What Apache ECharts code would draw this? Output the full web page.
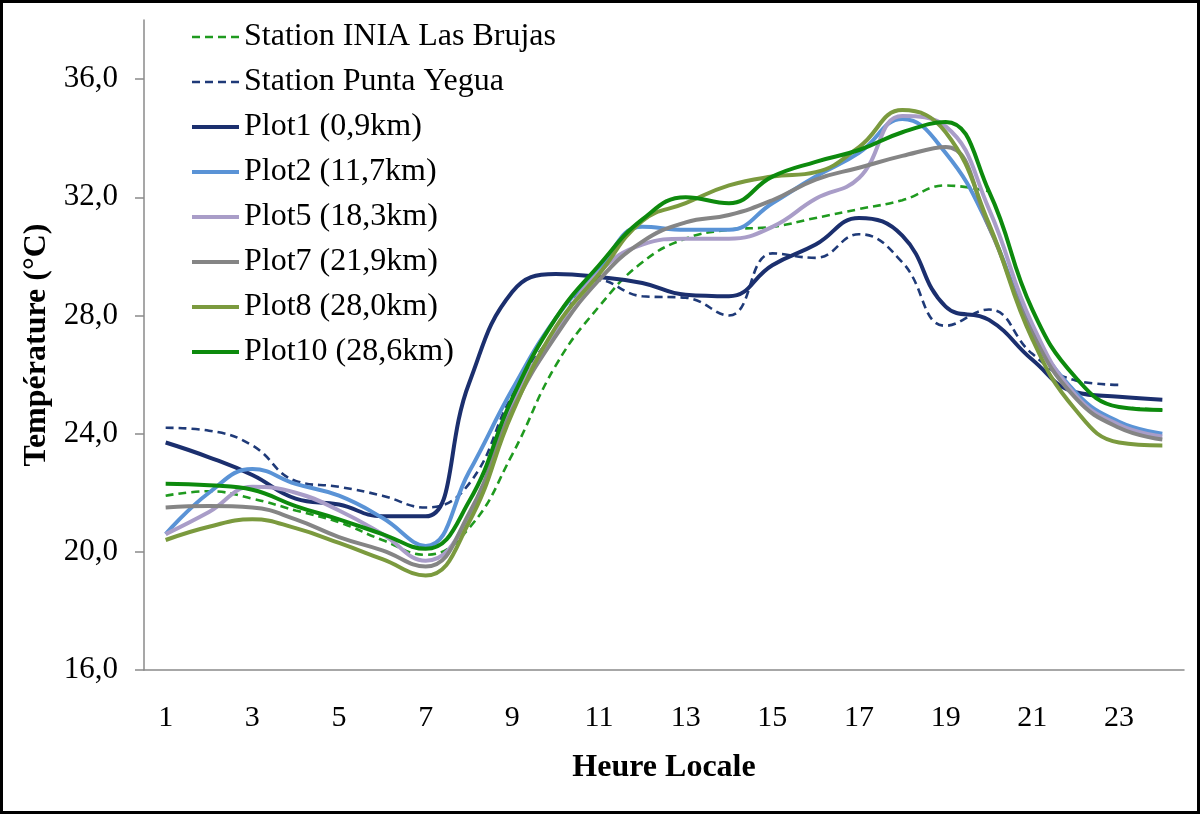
<!DOCTYPE html>
<html>
<head>
<meta charset="utf-8">
<script src="https://cdn.jsdelivr.net/npm/echarts@6/dist/echarts.min.js"></script>
<style>
  html, body { margin: 0; padding: 0; background: #fff; }
  #c1 { width: 1200px; height: 814px; }
</style>
</head>
<body>
<div id="c1"></div>
<script>
// hours (category axis)
var hours = ['1','2','3','4','5','6','7','8','9','10','11','12','13','14','15','16','17','18','19','20','21','22','23','24'];
var yTicks = [16, 20, 24, 28, 32, 36];

// temperatures (°C)
var iniaLasBrujas = [21.9, 22.05, 21.8, 21.4, 21.0, 20.4, 19.9, 20.8, 23.3, 26.3, 28.3, 29.8, 30.6, 30.9, 31.0, 31.3, 31.6, 31.9, 32.4, 32.2, null, null, 24.9, 24.8];
var puntaYegua    = [24.2, 24.1, 23.6, 22.4, 22.2, 21.9, 21.5, 22.3, 25.3, 27.5, 29.2, 28.65, 28.6, 28.0, 30.1, 29.95, 30.75, 29.8, 27.65, 28.2, 26.7, 25.8, 25.65, null];
var plot1  = [23.7, 23.2, 22.6, 21.8, 21.6, 21.2, 21.2, 25.7, 28.8, 29.4, 29.3, 29.1, 28.7, 28.65, 29.7, 30.4, 31.3, 30.7, 28.3, 27.85, 26.5, 25.4, 25.25, 25.15];
var plot2  = [20.6, 22.0, 22.8, 22.3, 21.9, 21.15, 20.2, 22.7, 25.5, 27.9, 29.6, 31.0, 30.9, 30.9, 31.8, 32.7, 33.5, 34.65, 33.5, 31.0, 27.5, 25.4, 24.4, 24.0];
var plot5  = [20.6, 21.35, 22.2, 22.0, 21.4, 20.6, 19.7, 21.2, 25.0, 27.5, 29.45, 30.4, 30.6, 30.6, 31.0, 31.95, 32.65, 34.75, 34.4, 31.6, 27.7, 25.3, 24.3, 23.9];
var plot7  = [21.5, 21.55, 21.5, 21.1, 20.5, 20.05, 19.5, 21.3, 24.8, 27.3, 29.2, 30.5, 31.15, 31.4, 31.9, 32.6, 33.0, 33.4, 33.7, 31.0, 27.4, 25.2, 24.2, 23.8];
var plot8  = [20.4, 20.85, 21.1, 20.8, 20.3, 19.75, 19.2, 21.0, 24.7, 27.6, 29.4, 31.2, 31.8, 32.4, 32.7, 32.85, 33.7, 34.95, 34.2, 31.1, 27.2, 24.8, 23.7, 23.6];
var plot10 = [22.3, 22.25, 22.1, 21.55, 21.1, 20.6, 20.1, 21.7, 25.2, 27.9, 29.7, 31.25, 32.0, 31.8, 32.7, 33.2, 33.6, 34.2, 34.55, 32.2, 28.2, 25.9, 24.9, 24.8];

var seriesNames = ['Station INIA Las Brujas', 'Station Punta Yegua', 'Plot1 (0,9km)', 'Plot2 (11,7km)', 'Plot5 (18,3km)', 'Plot7 (21,9km)', 'Plot8 (28,0km)', 'Plot10 (28,6km)'];
var seriesColors = ['#1f9a1f', '#1f3a78', '#1b2f6e', '#5a93d6', '#a99dc8', '#858585', '#7b9a3e', '#0d8a0d'];
var seriesData = [iniaLasBrujas, puntaYegua, plot1, plot2, plot5, plot7, plot8, plot10];

var serif = '"Liberation Serif", "DejaVu Serif", serif';

function lineWidth(i){ return i < 2 ? 2.6 : 4; }

function makeLine(i){
  var dashed = i < 2;
  return {
    name: seriesNames[i],
    type: 'line',
    data: seriesData[i],
    smooth: 0.45,
    symbol: 'none',
    connectNulls: false,
    lineStyle: {
      color: seriesColors[i],
      width: lineWidth(i),
      type: dashed ? [8, 5] : 'solid'
    },
    itemStyle: {color: seriesColors[i]}
  };
}

var series = [];
var legendData = [];
for (var i = 0; i < seriesData.length; i++) {
  series.push(makeLine(i));
  legendData.push({name: seriesNames[i], lineStyle: {width: lineWidth(i)}});
}

var option = {
  animation: false,
  graphic: [{
    type: 'rect',
    shape: {x: 1.5, y: 1.5, width: 1197, height: 811},
    style: {fill: 'none', stroke: '#000', lineWidth: 3},
    silent: true
  }],
  grid: {left: 144, right: 16, top: 20, bottom: 144},
  legend: {
    orient: 'vertical',
    left: 190,
    top: 21,
    padding: 0,
    itemWidth: 47,
    itemHeight: 12,
    itemGap: 13,
    itemStyle: {opacity: 0},
    textStyle: {fontFamily: serif, fontSize: 32, color: '#000', lineHeight: 32},
    data: legendData
  },
  xAxis: {
    type: 'category',
    boundaryGap: true,
    data: hours,
    name: 'Heure Locale',
    nameLocation: 'middle',
    nameGap: 82,
    nameTextStyle: {fontFamily: serif, fontSize: 32, fontWeight: 'bold', color: '#000'},
    axisLine: {lineStyle: {color: '#8a8a8a', width: 1.5}},
    axisTick: {interval: 1, length: 9, lineStyle: {color: '#8a8a8a', width: 1.5}},
    axisLabel: {interval: 1, margin: 33, fontFamily: serif, fontSize: 30, color: '#000'},
    splitLine: {show: false}
  },
  yAxis: {
    type: 'value',
    min: 16,
    max: 38,
    interval: 4,
    name: 'Température (°C)',
    nameLocation: 'middle',
    nameGap: 91,
    nameTextStyle: {fontFamily: serif, fontSize: 32, fontWeight: 'bold', color: '#000'},
    axisLine: {show: true, lineStyle: {color: '#8a8a8a', width: 1.5}},
    axisTick: {show: true, length: 9, customValues: yTicks, lineStyle: {color: '#8a8a8a', width: 1.5}},
    axisLabel: {
      customValues: yTicks,
      margin: 26,
      fontFamily: serif,
      fontSize: 31,
      color: '#000',
      formatter: function(v){ return v.toFixed(1).replace('.', ','); }
    },
    splitLine: {show: false}
  },
  series: series
};

var myChart = echarts.init(document.getElementById('c1'));
myChart.setOption(option);
window.onresize = myChart.resize;
</script>
</body>
</html>
